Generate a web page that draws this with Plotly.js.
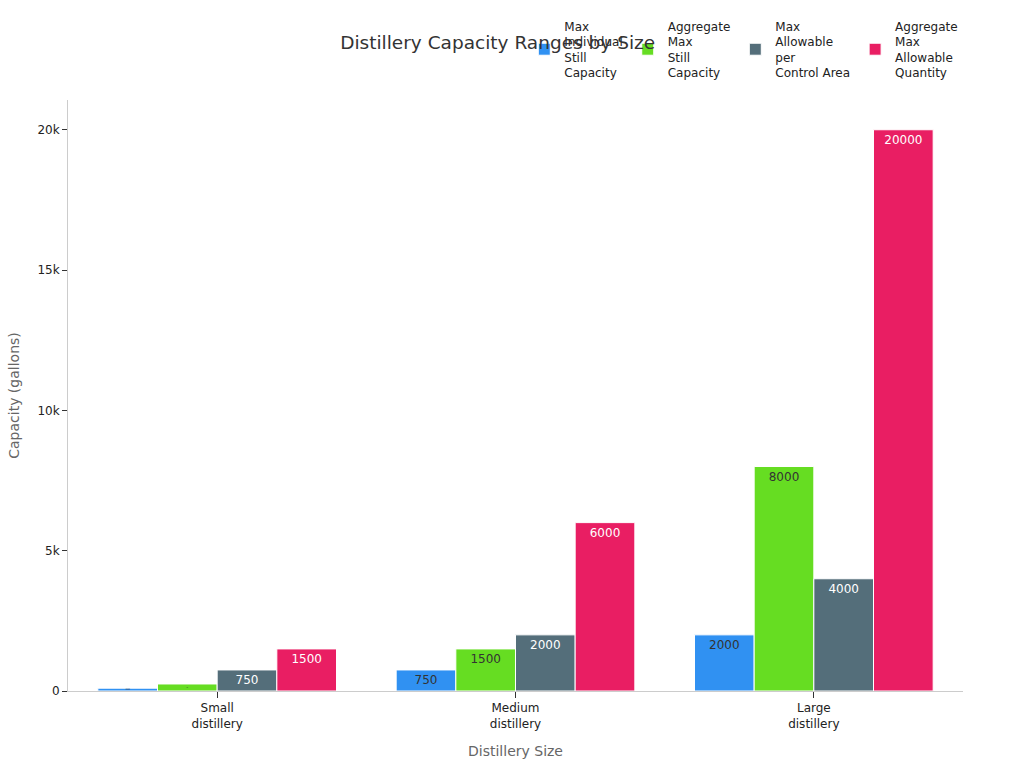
<!DOCTYPE html>
<html>
<head>
<meta charset="utf-8">
<script src="https://cdn.plot.ly/plotly-3.0.1.min.js"></script>
<style>html,body{margin:0;padding:0;background:#fff;}#chart{width:1024px;height:768px;}</style>
</head>
<body>
<div id="chart"></div>
<script>
const categories = ["Small<br>distillery", "Medium<br>distillery", "Large<br>distillery"];
const seriesNames = ["Max<br>Individual<br>Still<br>Capacity", "Aggregate<br>Max<br>Still<br>Capacity", "Max<br>Allowable<br>per<br>Control Area", "Aggregate<br>Max<br>Allowable<br>Quantity"];
const maxIndividualStill = [100, 750, 2000];
const aggregateMaxStill = [250, 1500, 8000];
const maxAllowablePerArea = [750, 2000, 4000];
const aggregateMaxAllowable = [1500, 6000, 20000];
const colors = ["#3091F2", "#66DD22", "#546E7A", "#E91E63"];
const textColors = ["#333333", "#333333", "#ffffff", "#ffffff"];

const allValues = [maxIndividualStill, aggregateMaxStill, maxAllowablePerArea, aggregateMaxAllowable];
const traces = allValues.map((vals, i) => ({
  type: "bar",
  name: seriesNames[i],
  x: categories,
  y: vals,
  text: vals.map(String),
  textposition: "inside",
  insidetextanchor: "end",
  textangle: 0,
  insidetextfont: {color: textColors[i], size: 12, family: "DejaVu Sans"},
  marker: {color: colors[i], line: {color: "#ffffff", width: 1}},
  hoverinfo: "x+y+name"
}));

const layout = {
  width: 1024, height: 768,
  font: {family: "DejaVu Sans", color: "#333"},
  paper_bgcolor: "#fff", plot_bgcolor: "#fff",
  margin: {l: 68, r: 61, t: 100, b: 77},
  title: {text: "Distillery Capacity Ranges by Size", font: {size: 18.5, color: "#333"}, x: 0.486, xanchor: "center", y: 0.944, yanchor: "middle"},
  barmode: "group",
  bargap: 0.2,
  bargroupgap: 0,
  legend: {orientation: "h", xref: "container", yref: "container", x: 0.512, xanchor: "left", y: 0.985, yanchor: "top", font: {size: 12, color: "#222"}, bgcolor: "rgba(0,0,0,0)"},
  xaxis: {
    title: {text: "Distillery Size", font: {size: 14, color: "#666"}, standoff: 16},
    showline: true, linecolor: "#cccccc", linewidth: 1,
    ticks: "outside", ticklen: 6, tickcolor: "#333",
    tickfont: {size: 12, color: "#222"},
    showgrid: false
  },
  yaxis: {
    title: {text: "Capacity (gallons)", font: {size: 14, color: "#666"}, standoff: 14},
    range: [0, 21060],
    showline: true, linecolor: "#cccccc", linewidth: 1,
    ticks: "outside", ticklen: 5, tickcolor: "#333",
    tickfont: {size: 12, color: "#222"},
    tickvals: [0, 5000, 10000, 15000, 20000],
    ticktext: ["0", "5k", "10k", "15k", "20k"],
    showgrid: false, zeroline: false
  }
};

Plotly.newPlot("chart", traces, layout, {displayModeBar: false});
</script>
</body>
</html>
